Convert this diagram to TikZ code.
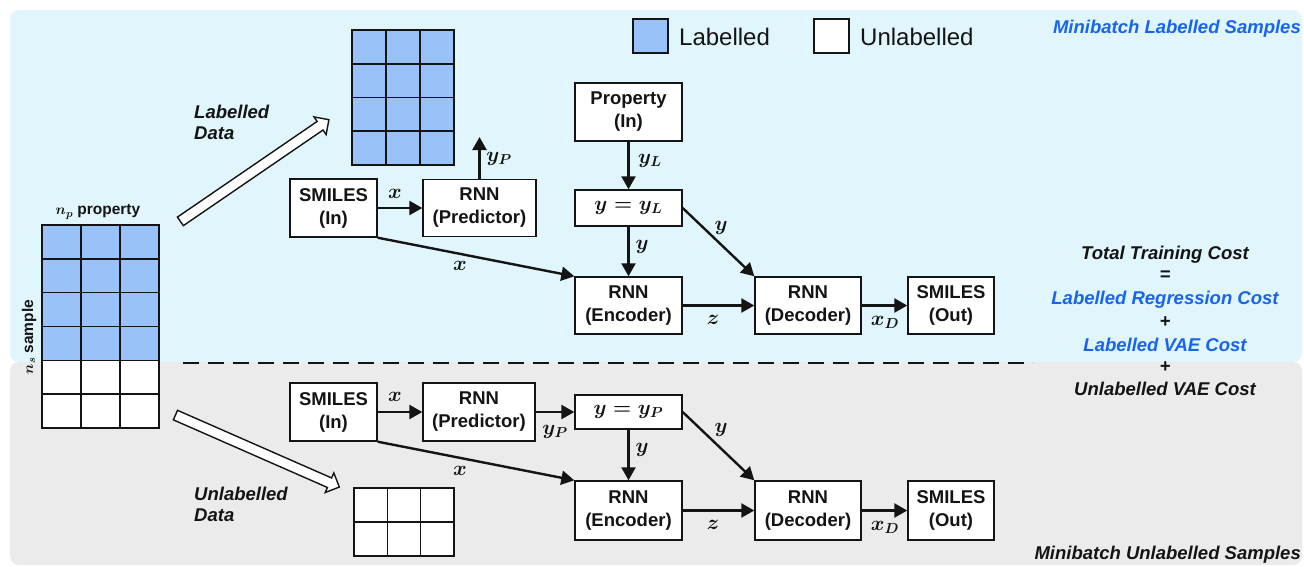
\documentclass[tikz,border=0pt]{standalone}
\usepackage{fontspec}
\setmainfont{Liberation Sans}
\usepackage{amsmath,bm}
\usetikzlibrary{arrows.meta,shapes.arrows}
\definecolor{bgblue}{RGB}{224,245,252}
\definecolor{bggray}{RGB}{235,235,235}
\definecolor{cellblue}{RGB}{153,194,250}
\definecolor{txtblue}{RGB}{22,100,240}
\definecolor{ink}{RGB}{20,20,20}
\newcommand{\boxfnt}{\fontsize{18.5}{23}\selectfont\bfseries}
\newcommand{\lblfnt}{\fontsize{21}{22}\selectfont\boldmath}
\newcommand{\sidefnt}{\fontsize{18.5}{21}\selectfont\bfseries\itshape}
\tikzset{
  box/.style={draw=ink, line width=1.4pt, fill=white, text=ink, font=\boxfnt, align=center, inner sep=0pt},
  arr/.style={draw=ink, line width=2.4pt, -{Triangle[length=13pt,width=14pt]}},
  lbl/.style={text=ink, font=\lblfnt, inner sep=0pt},
  cell/.style={draw=ink, line width=1.6pt},
  side/.style={font=\sidefnt, inner sep=0pt, align=center},
  hollow/.style={single arrow, draw=ink, fill=white, line width=1.4pt, inner sep=4.5pt, single arrow head extend=5.5pt, single arrow tip angle=90},
}
\begin{document}
\begin{tikzpicture}[x=1pt,y=-1pt]
\useasboundingbox (0,0) rectangle (1304,566);
% backgrounds
\fill[bgblue, rounded corners=9pt] (10,10) rectangle (1302,362);
\fill[bggray, rounded corners=9pt] (10,362) rectangle (1302,565);
% dashed separator
\coordinate (dashL) at (183,363);
\coordinate (dashR) at (1033,363);
\draw[ink, line width=2.4pt, dash pattern=on 16pt off 9pt] (dashL) -- (dashR);

% left grid
\foreach \r in {0,...,3} \foreach \c in {0,1,2}
  \draw[cell, fill=cellblue] ({42+39*\c},{225+33.83*\r}) rectangle ++(39,33.83);
\foreach \r in {4,5} \foreach \c in {0,1,2}
  \draw[cell, fill=white] ({42+39*\c},{225+33.83*\r}) rectangle ++(39,33.83);
\node[inner sep=0pt, text=ink, font=\fontsize{15.5}{17}\selectfont\bfseries\boldmath] (np) at (98,212) {$n_p$ property};
\node[inner sep=0pt, text=ink, rotate=90, font=\fontsize{15.5}{17}\selectfont\bfseries\boldmath] (ns) at (29,337) {$n_s$ sample};

% labelled grid
\foreach \r in {0,...,3} \foreach \c in {0,1,2}
  \draw[cell, fill=cellblue] ({352+34*\c},{30+33.75*\r}) rectangle ++(34,33.75);
% unlabelled grid
\foreach \r in {0,1} \foreach \c in {0,1,2}
  \draw[cell, fill=white] ({354+33.3*\c},{488+34*\r}) rectangle ++(33.3,34);

% hollow arrows
\node[hollow, minimum height=180pt, rotate=34.4] (harrL) at (252.5,172) {};
\node[hollow, minimum height=179pt, rotate=-23.7] (harrU) at (255,450) {};
\node[side, text=ink, align=left, anchor=west] (ldata) at (194,122) {Labelled\\Data};
\node[side, text=ink, align=left, anchor=west] (udata) at (194,504) {Unlabelled\\Data};

% legend
\draw[line width=1.4pt, draw=ink, fill=cellblue] (633,19) rectangle (668,53);
\node[anchor=west, inner sep=0pt, text=ink, font=\fontsize{24}{26}\selectfont] (legL) at (679,37) {Labelled};
\draw[line width=1.4pt, draw=ink, fill=white] (814,19) rectangle (849,53);
\node[anchor=west, inner sep=0pt, text=ink, font=\fontsize{24}{26}\selectfont] (legU) at (860,37) {Unlabelled};

% side texts
\node[side, text=txtblue, anchor=east] (mbl) at (1301,29) {Minibatch Labelled Samples};
\node[side, text=ink, anchor=east] (mbu) at (1301,555) {Minibatch Unlabelled Samples};
\node[side, text=ink] (c1) at (1165,255) {Total Training Cost};
\node[side, text=ink] (c2) at (1165,276) {=};
\node[side, text=txtblue] (c3) at (1165,300) {Labelled Regression Cost};
\node[side, text=ink] (c4) at (1165,322) {+};
\node[side, text=txtblue] (c5) at (1165,345) {Labelled VAE Cost};
\node[side, text=ink] (c6) at (1165,367) {+};
\node[side, text=ink] (c7) at (1165,389) {Unlabelled VAE Cost};

% ---------- top (labelled) pipeline ----------
\node[box, minimum width=87pt, minimum height=58pt] (smiT) at (333.5,208) {SMILES\\(In)};
\node[box, minimum width=113pt, minimum height=57pt] (predT) at (479.5,208) {RNN\\(Predictor)};
\node[box, minimum width=107pt, minimum height=58pt] (propT) at (628.5,112) {Property\\(In)};
\node[box, minimum width=107pt, minimum height=36pt, font=\lblfnt] (ylT) at (628.5,208) {$y = y_L$};
\node[box, minimum width=107pt, minimum height=57pt] (encT) at (628.5,305.5) {RNN\\(Encoder)};
\node[box, minimum width=106pt, minimum height=57pt] (decT) at (808,305.5) {RNN\\(Decoder)};
\node[box, minimum width=86pt, minimum height=57pt] (outT) at (951,305.5) {SMILES\\(Out)};
\coordinate (ypT) at (479.5,137);

\draw[arr] (smiT) -- (predT);
\draw[arr] (predT.north) -- (ypT);
\draw[arr] (smiT.south east) -- (encT.north west);
\draw[arr] (propT) -- (ylT);
\draw[arr] (ylT) -- (encT);
\draw[arr] (ylT.east) -- (decT.north west);
\draw[arr] (encT) -- (decT);
\draw[arr] (decT) -- (outT);

\node[lbl] (lt1) at (395,194) {$x$};
\node[lbl] (lt2) at (499,159) {$y_P$};
\node[lbl] (lt3) at (460,266) {$x$};
\node[lbl] (lt4) at (650,161) {$y_L$};
\node[lbl] (lt5) at (642,247) {$y$};
\node[lbl] (lt6) at (721,228) {$y$};
\node[lbl] (lt7) at (713,320) {$z$};
\node[lbl] (lt8) at (885,322) {$x_D$};

% ---------- bottom (unlabelled) pipeline ----------
\node[box, minimum width=87pt, minimum height=58pt] (smiB) at (333.5,412) {SMILES\\(In)};
\node[box, minimum width=112pt, minimum height=58pt] (predB) at (479,412) {RNN\\(Predictor)};
\node[box, minimum width=107pt, minimum height=34pt, font=\lblfnt] (ypB) at (628.5,412) {$y = y_P$};
\node[box, minimum width=107pt, minimum height=59pt] (encB) at (628.5,510.5) {RNN\\(Encoder)};
\node[box, minimum width=106pt, minimum height=59pt] (decB) at (808,510.5) {RNN\\(Decoder)};
\node[box, minimum width=86pt, minimum height=59pt] (outB) at (951,510.5) {SMILES\\(Out)};

\draw[arr] (smiB) -- (predB);
\draw[arr] (predB) -- (ypB);
\draw[arr] (smiB.south east) -- (encB.north west);
\draw[arr] (ypB) -- (encB);
\draw[arr] (ypB.east) -- (decB.north west);
\draw[arr] (encB) -- (decB);
\draw[arr] (decB) -- (outB);

\node[lbl] (lb1) at (395,397) {$x$};
\node[lbl] (lb2) at (555,432) {$y_P$};
\node[lbl] (lb3) at (460,471) {$x$};
\node[lbl] (lb5) at (642,450) {$y$};
\node[lbl] (lb6) at (721,430) {$y$};
\node[lbl] (lb7) at (713,525) {$z$};
\node[lbl] (lb8) at (885,527) {$x_D$};
\end{tikzpicture}
\end{document}
